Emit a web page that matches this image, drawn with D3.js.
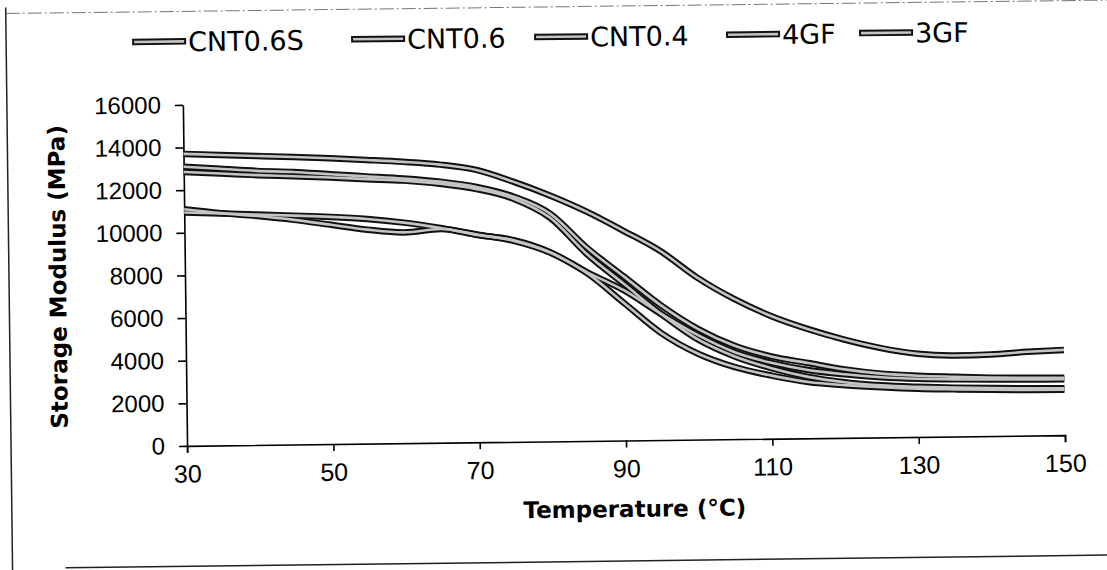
<!DOCTYPE html>
<html>
<head>
	<meta charset="UTF-8"/>
	<title>Storage Modulus vs Temperature</title>
	<style type="text/css">
		body {
		margin: 0;
		background: #fff;
		}

		svg {
		display: block;
		font-family: 'DejaVu Sans', sans-serif;
		}

		.axis path, .axis line {
		stroke: #000;
		stroke-width: 1.6;
		}

		.axis text {
		fill: #000;
		}

		text.title {
		font-weight: bold;
		font-size: 23px;
		}

		text.legend {
		font-size: 27px;
		}

		.outer {
		fill: none;
		stroke: #111;
		stroke-width: 6.5;
		stroke-linecap: butt;
		}

		.inner {
		fill: none;
		stroke: #c4c4c4;
		stroke-width: 2.6;
		}
	</style>
	<script src="https://d3js.org/d3.v7.min.js"></script>
</head>
<body>

	<svg width="1107" height="570"></svg>

	<script>
		const temps = [30, 35, 40, 45, 50, 55, 60, 65, 70, 75, 80, 85, 90, 95, 100, 105, 110, 115, 120, 125, 130, 135, 140, 145, 150];

		const seriesNames = ['CNT0.6S', 'CNT0.6', 'CNT0.4', '4GF', '3GF'];

		// storage modulus (MPa)
		const cnt06s = [13100, 12980, 12860, 12790, 12660, 12540, 12420, 12250, 11980, 11510, 10690, 9060, 7690, 6320, 5200, 4380, 3860, 3530, 3210, 2990, 2870, 2800, 2740, 2710, 2690];
		const cnt06 = [12850, 12760, 12660, 12590, 12510, 12410, 12320, 12150, 11880, 11410, 10490, 8760, 7340, 5920, 4700, 3880, 3310, 2880, 2610, 2440, 2350, 2290, 2250, 2220, 2200];
		const cnt04 = [11100, 10900, 10740, 10540, 10290, 10040, 9890, 10030, 9730, 9460, 8870, 7910, 7040, 5920, 4900, 4080, 3560, 3200, 2980, 2820, 2730, 2680, 2650, 2630, 2620];
		const gf4 = [10950, 10880, 10810, 10740, 10660, 10540, 10350, 10080, 9750, 9430, 8850, 7860, 6440, 5020, 4030, 3380, 2960, 2640, 2470, 2350, 2260, 2210, 2170, 2140, 2130];
		const gf3 = [13700, 13630, 13560, 13490, 13410, 13310, 13200, 13050, 12780, 12210, 11540, 10760, 9840, 8870, 7600, 6580, 5760, 5130, 4610, 4190, 3900, 3800, 3830, 3930, 4000];

		const yTicks = [0, 2000, 4000, 6000, 8000, 10000, 12000, 14000, 16000];
		const xTicks = [30, 50, 70, 90, 110, 130, 150];

		const series = [cnt06s, cnt06, cnt04, gf4, gf3].map((v, i) => ({
			name: seriesNames[i],
			points: temps.map((t, j) => ({ t: t, v: v[j] }))
		}));

		const svg = d3.select('svg');

		svg.append('rect')
			.attr('width', 1107)
			.attr('height', 570)
			.attr('fill', '#fff');

		// the scan is a little tilted, right side higher
		const page = svg.append('g')
			.attr('transform', 'rotate(-0.7, 624, 275)');

		// frame of the scanned figure
		page.append('line')
			.attr('x1', 9).attr('x2', 9)
			.attr('y1', 0).attr('y2', 575)
			.attr('stroke', '#222').attr('stroke-width', 1.5);
		page.append('line')
			.attr('x1', 9).attr('x2', 1120)
			.attr('y1', 6).attr('y2', 6)
			.attr('stroke', '#777').attr('stroke-width', 1)
			.attr('stroke-dasharray', '14 3 2 3');
		page.append('line')
			.attr('x1', 62).attr('x2', 1120)
			.attr('y1', 561).attr('y2', 561)
			.attr('stroke', '#222').attr('stroke-width', 1.5);

		const xScale = d3.scaleLinear()
			.domain([30, 150])
			.range([185, 1063]);

		const yScale = d3.scaleLinear()
			.domain([0, 16000])
			.range([440.5, 99.5]);

		page.append('g')
			.attr('class', 'axis')
			.attr('transform', `translate(185, 0)`)
			.call(d3.axisLeft(yScale)
				.tickValues(yTicks)
				.tickFormat(d3.format('d'))
				.tickSize(8)
				.tickSizeOuter(0)
				.tickPadding(14))
			.selectAll('text')
			.style('font-size', '24px');

		page.append('g')
			.attr('class', 'axis')
			.attr('transform', `translate(0, ${yScale(0)})`)
			.call(d3.axisBottom(xScale)
				.tickValues(xTicks)
				.tickSize(7)
				.tickSizeOuter(7)
				.tickPadding(12))
			.selectAll('text')
			.style('font-size', '25px');

		page.append('text')
			.attr('class', 'title')
			.attr('x', 632)
			.attr('y', 517)
			.attr('text-anchor', 'middle')
			.text('Temperature (°C)');

		page.append('text')
			.attr('class', 'title')
			.attr('transform', 'translate(66, 270) rotate(-90)')
			.attr('text-anchor', 'middle')
			.text('Storage Modulus (MPa)');

		const line = d3.line()
			.x((d) => xScale(d.t))
			.y((d) => yScale(d.v))
			.curve(d3.curveMonotoneX);

		const curves = page.append('g');
		curves.selectAll('path.outer')
			.data(series)
			.enter()
			.append('path')
			.attr('class', 'outer')
			.attr('d', (s) => line(s.points));
		curves.selectAll('path.inner')
			.data(series)
			.enter()
			.append('path')
			.attr('class', 'inner')
			.attr('d', (s) => line(s.points));

		// legend
		const legendX = [135, 354, 537, 729, 862];
		const legend = page.append('g')
			.attr('transform', 'translate(0, 36)');
		const item = legend.selectAll('g')
			.data(series)
			.enter()
			.append('g')
			.attr('transform', (s, i) => `translate(${legendX[i]}, 0)`);
		item.append('line')
			.attr('class', 'outer')
			.attr('x1', 0).attr('x2', 54)
			.attr('y1', 0).attr('y2', 0);
		item.append('line')
			.attr('class', 'inner')
			.attr('x1', 2).attr('x2', 52)
			.attr('y1', 0).attr('y2', 0);
		item.append('text')
			.attr('class', 'legend')
			.attr('x', 56)
			.attr('y', 10)
			.text((s) => s.name);
	</script>

</body>
</html>
